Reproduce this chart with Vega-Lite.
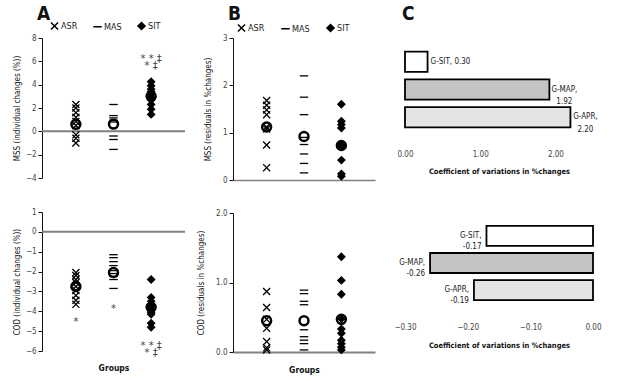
{
  "$schema": "https://vega.github.io/schema/vega-lite/v6.json",
  "padding": {"left": 13, "top": 5, "right": 5, "bottom": 3},
  "background": "white",
  "config": {
    "font": "Liberation Sans Narrow, DejaVu Sans Condensed, sans-serif",
    "view": {"stroke": null},
    "axis": {"grid": false, "domainColor": "#111", "tickColor": "#111", "labelFontSize": 8, "labelColor": "#444", "titleFontSize": 8, "titleColor": "#111", "titleFontWeight": "normal", "labelFlush": false, "labelOverlap": false},
    "title": {"fontSize": 19, "fontWeight": "bold", "anchor": "start", "color": "#111", "frame": "group"},
    "legend": {"orient": "none", "direction": "horizontal", "labelFontSize": 9, "labelColor": "#222", "symbolSize": 50, "columnPadding": 12, "labelOffset": 2, "padding": 0}
  },
  "datasets": {
    "A_MSS_pts": [
      {"group": "ASR", "value": 2.3}, {"group": "ASR", "value": 2.0}, {"group": "ASR", "value": 1.6}, {"group": "ASR", "value": 1.2}, {"group": "ASR", "value": 0.85}, {"group": "ASR", "value": 0.5}, {"group": "ASR", "value": -0.3}, {"group": "ASR", "value": -0.6}, {"group": "ASR", "value": -1.0},
      {"group": "MAS", "value": 2.3}, {"group": "MAS", "value": 1.35}, {"group": "MAS", "value": 1.15}, {"group": "MAS", "value": 0.95}, {"group": "MAS", "value": 0.8}, {"group": "MAS", "value": -0.4}, {"group": "MAS", "value": -0.7}, {"group": "MAS", "value": -1.55},
      {"group": "SIT", "value": 4.25}, {"group": "SIT", "value": 3.9}, {"group": "SIT", "value": 3.6}, {"group": "SIT", "value": 3.4}, {"group": "SIT", "value": 3.15}, {"group": "SIT", "value": 2.9}, {"group": "SIT", "value": 2.7}, {"group": "SIT", "value": 2.3}, {"group": "SIT", "value": 1.9}, {"group": "SIT", "value": 1.45}
    ],
    "A_MSS_mean": [{"group": "ASR", "value": 0.6}, {"group": "MAS", "value": 0.62}, {"group": "SIT", "value": 3.0}],
    "A_MSS_note": [{"group": "SIT", "value": 6.2, "label": "* * ‡|\u00a0\u00a0* ‡"}],
    "A_COD_pts": [
      {"group": "ASR", "value": -2.05}, {"group": "ASR", "value": -2.2}, {"group": "ASR", "value": -2.4}, {"group": "ASR", "value": -2.55}, {"group": "ASR", "value": -2.75}, {"group": "ASR", "value": -2.95}, {"group": "ASR", "value": -3.2}, {"group": "ASR", "value": -3.45}, {"group": "ASR", "value": -3.65},
      {"group": "MAS", "value": -1.15}, {"group": "MAS", "value": -1.3}, {"group": "MAS", "value": -1.5}, {"group": "MAS", "value": -1.7}, {"group": "MAS", "value": -1.95}, {"group": "MAS", "value": -2.1}, {"group": "MAS", "value": -2.25}, {"group": "MAS", "value": -2.4}, {"group": "MAS", "value": -2.85},
      {"group": "SIT", "value": -2.4}, {"group": "SIT", "value": -3.3}, {"group": "SIT", "value": -3.5}, {"group": "SIT", "value": -3.65}, {"group": "SIT", "value": -3.75}, {"group": "SIT", "value": -3.9}, {"group": "SIT", "value": -4.05}, {"group": "SIT", "value": -4.15}, {"group": "SIT", "value": -4.6}, {"group": "SIT", "value": -4.8}
    ],
    "A_COD_mean": [{"group": "ASR", "value": -2.75}, {"group": "MAS", "value": -2.05}, {"group": "SIT", "value": -3.8}],
    "A_COD_note": [{"group": "ASR", "value": -4.55, "label": "*"}, {"group": "MAS", "value": -3.87, "label": "*"}, {"group": "SIT", "value": -5.75, "label": "* * ‡|\u00a0\u00a0* ‡"}],
    "B_MSS_pts": [
      {"group": "ASR", "value": 1.68}, {"group": "ASR", "value": 1.58}, {"group": "ASR", "value": 1.48}, {"group": "ASR", "value": 1.38}, {"group": "ASR", "value": 1.12}, {"group": "ASR", "value": 1.08}, {"group": "ASR", "value": 0.74}, {"group": "ASR", "value": 0.26},
      {"group": "MAS", "value": 2.2}, {"group": "MAS", "value": 1.75}, {"group": "MAS", "value": 1.38}, {"group": "MAS", "value": 0.9}, {"group": "MAS", "value": 0.75}, {"group": "MAS", "value": 0.55}, {"group": "MAS", "value": 0.35}, {"group": "MAS", "value": 0.15},
      {"group": "SIT", "value": 1.6}, {"group": "SIT", "value": 1.24}, {"group": "SIT", "value": 1.17}, {"group": "SIT", "value": 1.1}, {"group": "SIT", "value": 0.75}, {"group": "SIT", "value": 0.7}, {"group": "SIT", "value": 0.42}, {"group": "SIT", "value": 0.13}, {"group": "SIT", "value": 0.08}
    ],
    "B_MSS_mean": [{"group": "ASR", "value": 1.12}, {"group": "MAS", "value": 0.92}, {"group": "SIT", "value": 0.73}],
    "B_COD_pts": [
      {"group": "ASR", "value": 0.87}, {"group": "ASR", "value": 0.64}, {"group": "ASR", "value": 0.47}, {"group": "ASR", "value": 0.34}, {"group": "ASR", "value": 0.15}, {"group": "ASR", "value": 0.06}, {"group": "ASR", "value": 0.03},
      {"group": "MAS", "value": 0.89}, {"group": "MAS", "value": 0.84}, {"group": "MAS", "value": 0.73}, {"group": "MAS", "value": 0.68}, {"group": "MAS", "value": 0.32}, {"group": "MAS", "value": 0.22}, {"group": "MAS", "value": 0.17}, {"group": "MAS", "value": 0.12}, {"group": "MAS", "value": 0.03},
      {"group": "SIT", "value": 1.37}, {"group": "SIT", "value": 1.03}, {"group": "SIT", "value": 0.83}, {"group": "SIT", "value": 0.48}, {"group": "SIT", "value": 0.33}, {"group": "SIT", "value": 0.27}, {"group": "SIT", "value": 0.17}, {"group": "SIT", "value": 0.12}, {"group": "SIT", "value": 0.07}, {"group": "SIT", "value": 0.03}
    ],
    "B_COD_mean": [{"group": "ASR", "value": 0.45}, {"group": "MAS", "value": 0.45}, {"group": "SIT", "value": 0.47}],
    "C_MSS": [
      {"group": "G-SIT", "value": 0.30, "label": "G-SIT, 0.30"},
      {"group": "G-MAP", "value": 1.92, "label": "G-MAP,|1.92"},
      {"group": "G-APR", "value": 2.20, "label": "G-APR,|2.20"}
    ],
    "C_COD": [
      {"group": "G-SIT", "value": -0.17, "label": "G-SIT,|-0.17"},
      {"group": "G-MAP", "value": -0.26, "label": "G-MAP,|-0.26"},
      {"group": "G-APR", "value": -0.19, "label": "G-APR,|-0.19"}
    ]
  },
  "spacing": 18,
  "resolve": {"scale": {"x": "independent", "y": "independent", "shape": "independent", "fill": "independent"}, "legend": {"shape": "independent", "fill": "independent"}},
  "hconcat": [
    {
      "spacing": 11,
      "resolve": {"scale": {"x": "independent", "y": "independent", "shape": "independent"}, "legend": {"shape": "independent"}},
      "hconcat": [
        {
          "spacing": 26,
          "resolve": {"scale": {"x": "independent", "y": "independent", "shape": "independent"}, "legend": {"shape": "independent"}},
          "vconcat": [
            {
              "width": 143, "height": 140,
              "title": {"text": "A", "dx": -5, "offset": -3},
              "layer": [
                {"data": {"values": [{}]}, "mark": {"type": "rule", "color": "#808080", "strokeWidth": 2},
                 "encoding": {"y": {"datum": 0, "type": "quantitative", "scale": {"domain": [-4, 8], "nice": false, "zero": false}, "axis": {"values": [-4, -2, 0, 2, 4, 6, 8], "title": "MSS (individual changes (%))", "tickSize": 4, "titlePadding": 4}}}},
                {"data": {"name": "A_MSS_pts"},
                 "mark": {"type": "point", "filled": true, "fill": "black", "stroke": "black", "strokeWidth": 1.3, "size": 50, "opacity": 1},
                 "encoding": {
                   "x": {"field": "group", "type": "nominal", "scale": {"type": "point", "domain": ["ASR", "MAS", "SIT"], "padding": 0.9}, "axis": null},
                   "y": {"field": "value", "type": "quantitative", "scale": {"domain": [-4, 8], "nice": false, "zero": false}, "axis": {"values": [-4, -2, 0, 2, 4, 6, 8], "title": "MSS (individual changes (%))", "tickSize": 4, "titlePadding": 4}},
                   "shape": {"field": "group", "type": "nominal", "scale": {"domain": ["ASR", "MAS", "SIT"], "range": ["M-1,-1L1,1M-1,1L1,-1", "M-1.2,0L1.2,0", "diamond"]},
                     "legend": {"title": null, "legendX": 8, "legendY": -17, "encode": {"symbols": {"update": {"stroke": {"value": "black"}, "strokeWidth": {"value": 1.4}, "fill": {"value": "black"}, "opacity": {"value": 1}}}}}}
                 }},
                {"data": {"name": "A_MSS_mean"},
                 "mark": {"type": "point", "shape": "circle", "filled": false, "stroke": "black", "strokeWidth": 2.5, "size": 80, "opacity": 1},
                 "encoding": {
                   "x": {"field": "group", "type": "nominal", "scale": {"type": "point", "domain": ["ASR", "MAS", "SIT"], "padding": 0.9}, "axis": null},
                   "y": {"field": "value", "type": "quantitative", "scale": {"domain": [-4, 8], "nice": false, "zero": false}, "axis": {"values": [-4, -2, 0, 2, 4, 6, 8], "title": "MSS (individual changes (%))", "tickSize": 4, "titlePadding": 4}}
                 }},
                {"data": {"name": "A_MSS_note"},
                 "mark": {"type": "text", "fontSize": 11, "color": "#444", "lineBreak": "|", "lineHeight": 6.5, "baseline": "middle"},
                 "encoding": {
                   "x": {"field": "group", "type": "nominal", "scale": {"type": "point", "domain": ["ASR", "MAS", "SIT"], "padding": 0.9}, "axis": null},
                   "y": {"field": "value", "type": "quantitative", "scale": {"domain": [-4, 8], "nice": false, "zero": false}, "axis": {"values": [-4, -2, 0, 2, 4, 6, 8], "title": "MSS (individual changes (%))", "tickSize": 4, "titlePadding": 4}},
                   "text": {"field": "label", "type": "nominal"}
                 }}
              ]
            },
            {
              "width": 143, "height": 139,
              "layer": [
                {"data": {"values": [{}]}, "mark": {"type": "rule", "color": "#808080", "strokeWidth": 2},
                 "encoding": {"y": {"datum": 0, "type": "quantitative", "scale": {"domain": [-6, 1], "nice": false, "zero": false}, "axis": {"values": [-6, -5, -4, -3, -2, -1, 0, 1], "title": "COD (individual changes (%))", "tickSize": 4, "titlePadding": 4}}}},
                {"data": {"name": "A_COD_pts"},
                 "mark": {"type": "point", "filled": true, "fill": "black", "stroke": "black", "strokeWidth": 1.3, "size": 50, "opacity": 1},
                 "encoding": {
                   "x": {"field": "group", "type": "nominal", "scale": {"type": "point", "domain": ["ASR", "MAS", "SIT"], "padding": 0.9}, "axis": {"title": "Groups", "labels": false, "ticks": false, "domain": false, "titleFontWeight": "bold", "titleFontSize": 8.5, "titlePadding": 12}},
                   "y": {"field": "value", "type": "quantitative", "scale": {"domain": [-6, 1], "nice": false, "zero": false}, "axis": {"values": [-6, -5, -4, -3, -2, -1, 0, 1], "title": "COD (individual changes (%))", "tickSize": 4, "titlePadding": 4}},
                   "shape": {"field": "group", "type": "nominal", "scale": {"domain": ["ASR", "MAS", "SIT"], "range": ["M-1,-1L1,1M-1,1L1,-1", "M-1.2,0L1.2,0", "diamond"]}, "legend": null}
                 }},
                {"data": {"name": "A_COD_mean"},
                 "mark": {"type": "point", "shape": "circle", "filled": false, "stroke": "black", "strokeWidth": 2.5, "size": 80, "opacity": 1},
                 "encoding": {
                   "x": {"field": "group", "type": "nominal", "scale": {"type": "point", "domain": ["ASR", "MAS", "SIT"], "padding": 0.9}, "axis": {"title": "Groups", "labels": false, "ticks": false, "domain": false, "titleFontWeight": "bold", "titleFontSize": 8.5, "titlePadding": 12}},
                   "y": {"field": "value", "type": "quantitative", "scale": {"domain": [-6, 1], "nice": false, "zero": false}, "axis": {"values": [-6, -5, -4, -3, -2, -1, 0, 1], "title": "COD (individual changes (%))", "tickSize": 4, "titlePadding": 4}}
                 }},
                {"data": {"name": "A_COD_note"},
                 "mark": {"type": "text", "fontSize": 11, "color": "#444", "lineBreak": "|", "lineHeight": 6.5, "baseline": "middle"},
                 "encoding": {
                   "x": {"field": "group", "type": "nominal", "scale": {"type": "point", "domain": ["ASR", "MAS", "SIT"], "padding": 0.9}, "axis": {"title": "Groups", "labels": false, "ticks": false, "domain": false, "titleFontWeight": "bold", "titleFontSize": 8.5, "titlePadding": 12}},
                   "y": {"field": "value", "type": "quantitative", "scale": {"domain": [-6, 1], "nice": false, "zero": false}, "axis": {"values": [-6, -5, -4, -3, -2, -1, 0, 1], "title": "COD (individual changes (%))", "tickSize": 4, "titlePadding": 4}},
                   "text": {"field": "label", "type": "nominal"}
                 }}
              ]
            }
          ]
        },
        {
          "spacing": 25,
          "resolve": {"scale": {"x": "independent", "y": "independent", "shape": "independent"}, "legend": {"shape": "independent"}},
          "vconcat": [
            {
              "width": 142, "height": 142,
              "title": {"text": "B", "dx": -5, "offset": -1},
              "layer": [
                {"data": {"name": "B_MSS_pts"},
                 "mark": {"type": "point", "filled": true, "fill": "black", "stroke": "black", "strokeWidth": 1.3, "size": 50, "opacity": 1},
                 "encoding": {
                   "x": {"field": "group", "type": "nominal", "scale": {"type": "point", "domain": ["ASR", "MAS", "SIT"], "padding": 0.9}, "axis": {"title": null, "labels": false, "ticks": false, "domain": true, "domainColor": "#808080", "domainWidth": 1.5}},
                   "y": {"field": "value", "type": "quantitative", "scale": {"domain": [0, 3], "nice": false}, "axis": {"values": [0, 1, 2, 3], "title": "MSS (residuals in %changes)", "tickSize": 4, "titlePadding": 10}},
                   "shape": {"field": "group", "type": "nominal", "scale": {"domain": ["ASR", "MAS", "SIT"], "range": ["M-1,-1L1,1M-1,1L1,-1", "M-1.2,0L1.2,0", "diamond"]},
                     "legend": {"title": null, "legendX": 4, "legendY": -15, "columnPadding": 13, "encode": {"symbols": {"update": {"stroke": {"value": "black"}, "strokeWidth": {"value": 1.4}, "fill": {"value": "black"}, "opacity": {"value": 1}}}}}}
                 }},
                {"data": {"name": "B_MSS_mean"},
                 "mark": {"type": "point", "shape": "circle", "filled": false, "stroke": "black", "strokeWidth": 2.5, "size": 80, "opacity": 1},
                 "encoding": {
                   "x": {"field": "group", "type": "nominal", "scale": {"type": "point", "domain": ["ASR", "MAS", "SIT"], "padding": 0.9}, "axis": {"title": null, "labels": false, "ticks": false, "domain": true, "domainColor": "#808080", "domainWidth": 1.5}},
                   "y": {"field": "value", "type": "quantitative", "scale": {"domain": [0, 3], "nice": false}, "axis": {"values": [0, 1, 2, 3], "title": "MSS (residuals in %changes)", "tickSize": 4, "titlePadding": 10}}
                 }}
              ]
            },
            {
              "width": 142, "height": 139,
              "layer": [
                {"data": {"name": "B_COD_pts"},
                 "mark": {"type": "point", "filled": true, "fill": "black", "stroke": "black", "strokeWidth": 1.3, "size": 50, "opacity": 1},
                 "encoding": {
                   "x": {"field": "group", "type": "nominal", "scale": {"type": "point", "domain": ["ASR", "MAS", "SIT"], "padding": 0.9}, "axis": {"title": "Groups", "labels": false, "ticks": false, "domain": true, "domainColor": "#808080", "domainWidth": 2, "titleFontWeight": "bold", "titleFontSize": 8.5, "titlePadding": 13}},
                   "y": {"field": "value", "type": "quantitative", "scale": {"domain": [0, 2], "nice": false}, "axis": {"values": [0, 1, 2], "title": "COD (residuals in %changes)", "tickSize": 4, "titlePadding": 10}},
                   "shape": {"field": "group", "type": "nominal", "scale": {"domain": ["ASR", "MAS", "SIT"], "range": ["M-1,-1L1,1M-1,1L1,-1", "M-1.2,0L1.2,0", "diamond"]}, "legend": null}
                 }},
                {"data": {"name": "B_COD_mean"},
                 "mark": {"type": "point", "shape": "circle", "filled": false, "stroke": "black", "strokeWidth": 2.5, "size": 80, "opacity": 1},
                 "encoding": {
                   "x": {"field": "group", "type": "nominal", "scale": {"type": "point", "domain": ["ASR", "MAS", "SIT"], "padding": 0.9}, "axis": {"title": "Groups", "labels": false, "ticks": false, "domain": true, "domainColor": "#808080", "domainWidth": 2, "titleFontWeight": "bold", "titleFontSize": 8.5, "titlePadding": 13}},
                   "y": {"field": "value", "type": "quantitative", "scale": {"domain": [0, 2], "nice": false}, "axis": {"values": [0, 1, 2], "title": "COD (residuals in %changes)", "tickSize": 4, "titlePadding": 10}}
                 }}
              ]
            }
          ]
        }
      ]
    },
    {
      "spacing": 38,
      "resolve": {"scale": {"x": "independent", "y": "independent", "fill": "independent"}, "legend": {"fill": "independent"}},
      "vconcat": [
        {
          "width": 188, "height": 103,
          "title": {"text": "C", "dx": -3, "offset": 14},
          "data": {"name": "C_MSS"},
          "layer": [
            {"mark": {"type": "bar", "stroke": "black", "strokeWidth": 1.8},
             "encoding": {
               "y": {"field": "group", "type": "nominal", "sort": ["G-SIT", "G-MAP", "G-APR"], "scale": {"paddingInner": 0.27, "paddingOuter": 0.49}, "axis": null},
               "x": {"field": "value", "type": "quantitative", "scale": {"domain": [0, 2.5], "nice": false}, "axis": {"values": [0, 0.5, 1, 1.5, 2, 2.5], "format": ".2f", "domain": false, "ticks": false, "labelFontSize": 8, "labelPadding": 9, "title": "Coefficient of variations in %changes", "titleFontWeight": "bold", "titleFontSize": 7.5, "titlePadding": 9}},
               "fill": {"field": "group", "type": "nominal", "scale": {"domain": ["G-SIT", "G-MAP", "G-APR"], "range": ["#ffffff", "#c4c4c4", "#e4e4e4"]}, "legend": null}
             }},
            {"transform": [{"filter": {"field": "group", "equal": "G-SIT"}}],
             "mark": {"type": "text", "align": "left", "dx": 3, "fontSize": 8, "color": "#222", "baseline": "middle"},
             "encoding": {
               "y": {"field": "group", "type": "nominal", "sort": ["G-SIT", "G-MAP", "G-APR"], "axis": null},
               "x": {"field": "value", "type": "quantitative"},
               "text": {"field": "label", "type": "nominal"}
             }},
            {"transform": [{"filter": {"field": "group", "oneOf": ["G-MAP", "G-APR"]}}],
             "mark": {"type": "text", "align": "center", "dx": 15, "fontSize": 8, "color": "#222", "baseline": "middle", "lineBreak": "|", "lineHeight": 12.5},
             "encoding": {
               "y": {"field": "group", "type": "nominal", "sort": ["G-SIT", "G-MAP", "G-APR"], "axis": null},
               "x": {"field": "value", "type": "quantitative"},
               "text": {"field": "label", "type": "nominal"}
             }}
          ]
        },
        {
          "width": 188, "height": 100,
          "data": {"name": "C_COD"},
          "layer": [
            {"mark": {"type": "bar", "stroke": "black", "strokeWidth": 1.8},
             "encoding": {
               "y": {"field": "group", "type": "nominal", "sort": ["G-SIT", "G-MAP", "G-APR"], "scale": {"paddingInner": 0.26, "paddingOuter": 0.48}, "axis": null},
               "x": {"field": "value", "type": "quantitative", "scale": {"domain": [-0.3, 0], "nice": false}, "axis": {"values": [-0.3, -0.25, -0.2, -0.15, -0.1, -0.05, 0], "format": ".2f", "domain": false, "ticks": false, "labelFontSize": 8, "labelPadding": 10, "title": "Coefficient of variations in %changes", "titleFontWeight": "bold", "titleFontSize": 7.5, "titlePadding": 10}},
               "fill": {"field": "group", "type": "nominal", "scale": {"domain": ["G-SIT", "G-MAP", "G-APR"], "range": ["#ffffff", "#c4c4c4", "#e4e4e4"]}, "legend": null}
             }},
            {"mark": {"type": "text", "align": "right", "dx": -5, "fontSize": 8, "color": "#222", "baseline": "middle", "lineBreak": "|", "lineHeight": 11},
             "encoding": {
               "y": {"field": "group", "type": "nominal", "sort": ["G-SIT", "G-MAP", "G-APR"], "axis": null},
               "x": {"field": "value", "type": "quantitative"},
               "text": {"field": "label", "type": "nominal"}
             }}
          ]
        }
      ]
    }
  ]
}
